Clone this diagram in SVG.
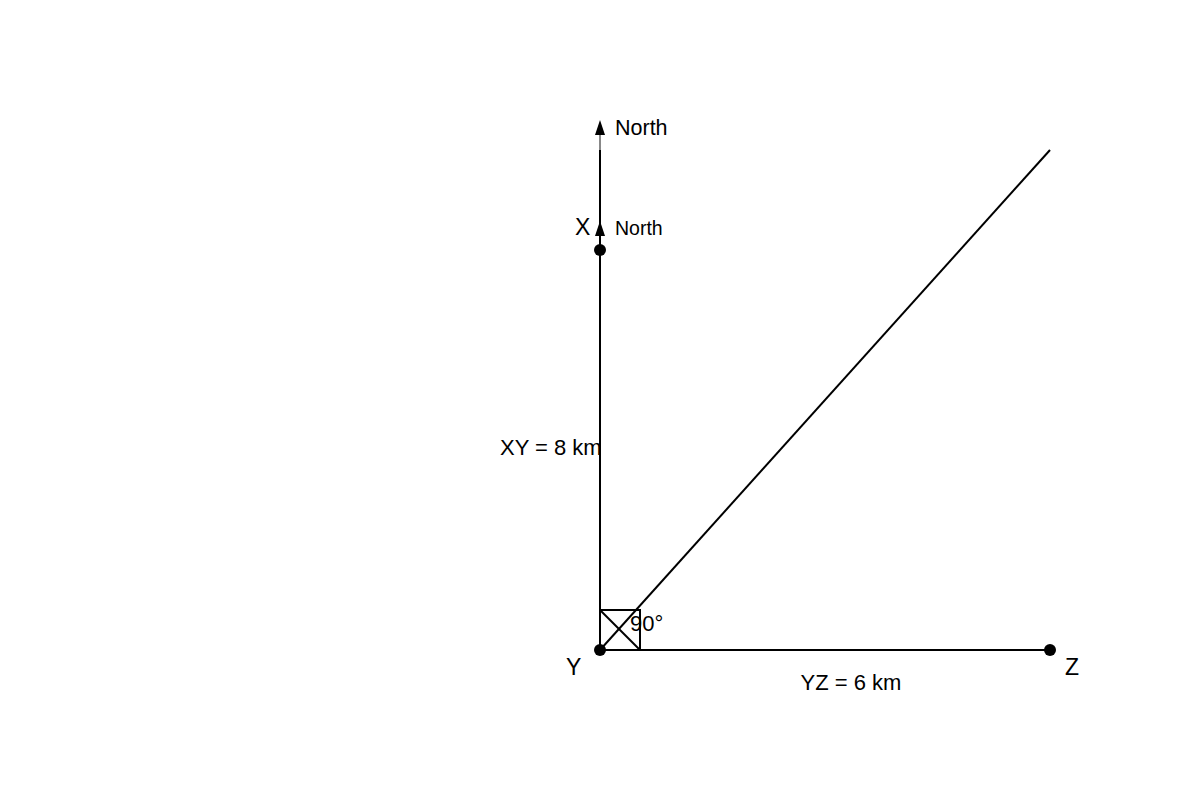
<svg xmlns="http://www.w3.org/2000/svg" width="1200" height="800" viewBox="0 0 1200 800">
<style>
.ln{stroke:#000;stroke-width:2;fill:none}
.lbl{font-family:"Liberation Sans",Arial,sans-serif;fill:#000}
.dot{fill:#000}
.ah{fill:#000}
</style>
<rect width="1200" height="800" fill="#fff"/>
<g id="connectors">
<line class="ln" x1="600" y1="650" x2="600" y2="150"/>
<line x1="600" y1="150" x2="600" y2="134" stroke="#888" stroke-width="2"/>
<polygon class="ah" points="600,120 595,135 605,135"/>
<polygon class="ah" points="600,221 595,236 605,236"/>
<line class="ln" x1="600" y1="650" x2="1050" y2="650"/>
<line class="ln" x1="600" y1="650" x2="1050" y2="150"/>
<rect class="ln" x="600" y="610" width="40" height="40" stroke-width="1.5"/>
<line class="ln" x1="600" y1="610" x2="640" y2="650" stroke-width="1.5"/>
</g>
<g id="north-top"><text class="lbl" x="615" y="135" font-size="21.5">North</text></g>
<g id="X">
<circle class="dot" cx="600" cy="250" r="6"/>
<text class="lbl" x="575" y="235" font-size="23">X</text>
<text class="lbl" x="615" y="235" font-size="19.5">North</text>
</g>
<g id="Y">
<circle class="dot" cx="600" cy="650" r="6"/>
<text class="lbl" x="566" y="675" font-size="23">Y</text>
<text class="lbl" x="630" y="631" font-size="22">90°</text>
</g>
<g id="Z">
<circle class="dot" cx="1050" cy="650" r="6"/>
<text class="lbl" x="1065" y="675" font-size="23">Z</text>
</g>
<g id="labels">
<text class="lbl" x="500" y="455" font-size="22">XY = 8 km</text>
<text class="lbl" x="851" y="690" font-size="22" text-anchor="middle">YZ = 6 km</text>
</g>
</svg>
